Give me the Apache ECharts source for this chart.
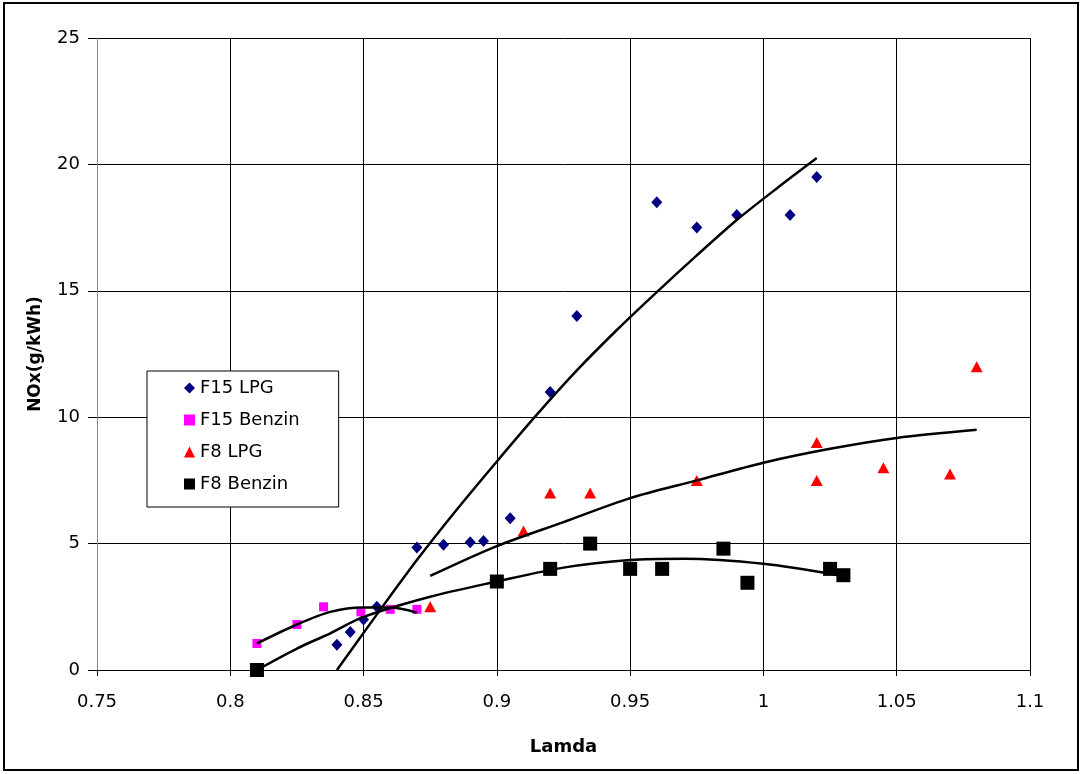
<!DOCTYPE html>
<html>
<head>
<meta charset="utf-8">
<title>NOx - Lamda</title>
<script src="https://cdn.jsdelivr.net/npm/echarts@6/dist/echarts.min.js"></script>
<style>
  html, body { margin: 0; padding: 0; background: #fff; }
  #chart { width: 1082px; height: 774px; }
</style>
</head>
<body>
<div id="chart"></div>
<script>
// 测量点 [lamda, NOx]
const f15Lpg = [
  [0.84, 1.0], [0.845, 1.5], [0.85, 2.0], [0.855, 2.5], [0.87, 4.85],
  [0.88, 4.95], [0.89, 5.05], [0.895, 5.1], [0.905, 6.0], [0.92, 11.0],
  [0.93, 14.0], [0.96, 18.5], [0.975, 17.5], [0.99, 18.0], [1.01, 18.0], [1.02, 19.5]
]
const f15Benzin = [
  [0.81, 1.05], [0.825, 1.8], [0.835, 2.5], [0.849, 2.3], [0.86, 2.4], [0.87, 2.4]
]
const f8Lpg = [
  [0.875, 2.5], [0.91, 5.5], [0.92, 7.0], [0.935, 7.0], [0.975, 7.5],
  [1.02, 9.0], [1.02, 7.5], [1.045, 8.0], [1.07, 7.75], [1.08, 12.0]
]
const f8Benzin = [
  [0.81, 0], [0.9, 3.5], [0.92, 4.0], [0.935, 5.0], [0.95, 4.0], [0.962, 4.0],
  [0.985, 4.8], [0.994, 3.45], [1.025, 4.0], [1.03, 3.75]
]

// 趋势线 (从图上读出的点)
const f15LpgTrend = [
  [0.84, 0], [0.855, 2.2], [0.87, 4.35], [0.885, 6.35], [0.9, 8.25], [0.915, 10.1],
  [0.93, 11.85], [0.945, 13.45], [0.96, 14.95], [0.975, 16.4], [0.99, 17.8],
  [1.005, 19.05], [1.02, 20.25]
]
const f15BenzinTrend = [
  [0.81, 1.05], [0.825, 1.8], [0.8375, 2.3], [0.85, 2.47], [0.86, 2.47], [0.87, 2.27]
]
const f8LpgTrend = [
  [0.875, 3.72], [0.9, 4.9], [0.925, 5.85], [0.95, 6.8], [0.975, 7.5],
  [1.0, 8.2], [1.025, 8.75], [1.05, 9.18], [1.08, 9.5]
]
const f8BenzinTrend = [
  [0.81, 0], [0.825, 0.85], [0.8375, 1.45], [0.85, 2.1], [0.875, 2.9], [0.9, 3.5],
  [0.925, 4.05], [0.95, 4.35], [0.97, 4.4], [1.0, 4.2], [1.028, 3.75]
]

const seriesNames = ['F15 LPG', 'F15 Benzin', 'F8 LPG', 'F8 Benzin']

const myChart = echarts.init(document.getElementById('chart'))

const font = 'DejaVu Sans, Liberation Sans, sans-serif'

// 趋势线统一样式
function trend (data) {
  return {
    type: 'line',
    data: data,
    smooth: 0.3,
    symbol: 'none',
    silent: true,
    z: 5,
    lineStyle: { color: '#000', width: 2.5 }
  }
}

myChart.setOption({
  animation: false,
  backgroundColor: '#fff',
  textStyle: { fontFamily: font },
  // 外框
  graphic: [
    {
      type: 'rect',
      shape: { x: 4, y: 3, width: 1074, height: 767 },
      style: { fill: 'none', stroke: '#000', lineWidth: 2 },
      z: 100
    }
  ],
  grid: {
    left: 97,
    right: 52,
    top: 38,
    bottom: 104
  },
  legend: {
    orient: 'vertical',
    left: 147,
    top: 371,
    data: seriesNames,
    backgroundColor: '#fff',
    borderColor: '#000',
    borderWidth: 1,
    padding: [8, 39, 14, 37],
    itemGap: 14,
    itemWidth: 11,
    itemHeight: 11,
    textStyle: { fontSize: 18, color: '#000', fontFamily: font }
  },
  xAxis: {
    type: 'value',
    min: 0.75,
    max: 1.1,
    interval: 0.05,
    name: 'Lamda',
    nameLocation: 'middle',
    nameGap: 68,
    nameTextStyle: { fontSize: 18, fontWeight: 'bold', color: '#000' },
    axisLine: { onZero: false, lineStyle: { color: '#000', width: 1 } },
    axisTick: { show: true, length: 6, lineStyle: { color: '#000' } },
    axisLabel: { fontSize: 18, color: '#000', margin: 23 },
    splitLine: { show: true, lineStyle: { color: '#000', width: 1 } }
  },
  yAxis: {
    type: 'value',
    min: 0,
    max: 25,
    interval: 5,
    name: 'NOx(g/kWh)',
    nameLocation: 'middle',
    nameGap: 53,
    nameTextStyle: { fontSize: 17, fontWeight: 'bold', color: '#000' },
    axisLine: { show: true, lineStyle: { color: '#888', width: 1 } },
    axisTick: { show: true, length: 9, lineStyle: { color: '#000' } },
    axisLabel: { fontSize: 18, color: '#000', margin: 17 },
    splitLine: { show: true, lineStyle: { color: '#000', width: 1 } }
  },
  series: [
    {
      name: 'F15 LPG',
      type: 'scatter',
      data: f15Lpg,
      symbol: 'diamond',
      symbolSize: [11, 12],
      itemStyle: { color: '#000080', opacity: 1 },
      z: 3
    },
    {
      name: 'F15 Benzin',
      type: 'scatter',
      data: f15Benzin,
      symbol: 'rect',
      symbolSize: 9,
      itemStyle: { color: '#FF00FF', opacity: 1 },
      z: 3
    },
    {
      name: 'F8 LPG',
      type: 'scatter',
      data: f8Lpg,
      symbol: 'triangle',
      symbolSize: [12, 11],
      itemStyle: { color: '#FF0000', opacity: 1 },
      z: 3
    },
    {
      name: 'F8 Benzin',
      type: 'scatter',
      data: f8Benzin,
      symbol: 'rect',
      symbolSize: 14,
      itemStyle: { color: '#000', opacity: 1 },
      z: 3
    },
    trend(f15LpgTrend),
    trend(f15BenzinTrend),
    trend(f8LpgTrend),
    trend(f8BenzinTrend)
  ]
})
</script>
</body>
</html>
